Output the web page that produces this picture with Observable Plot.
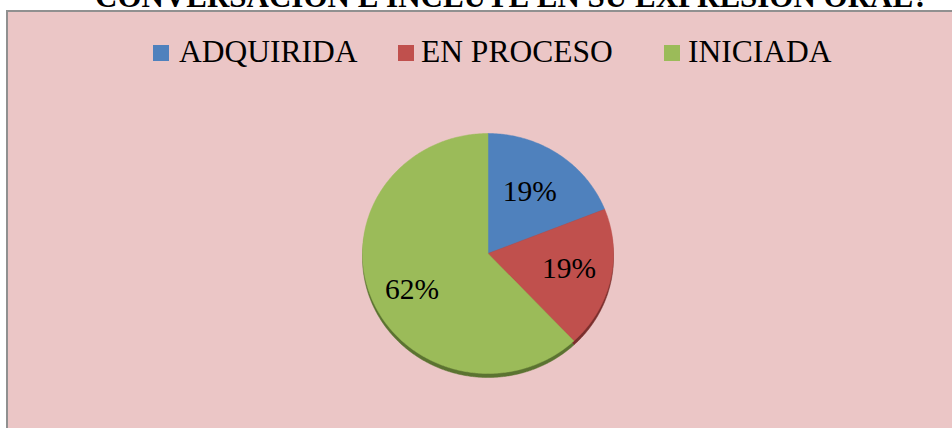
<!DOCTYPE html>
<html>
<head>
<meta charset="utf-8">
<script src="https://cdn.jsdelivr.net/npm/d3@7"></script>
<script src="https://cdn.jsdelivr.net/npm/@observablehq/plot@0.6"></script>
<style>
  html, body { margin: 0; padding: 0; background: #ffffff; overflow: hidden; }
  body { width: 952px; height: 428px; position: relative; font-family: "Liberation Serif", "Times New Roman", serif; }
  #title { position: absolute; left: 95px; top: -19px; font-size: 31px; line-height: 31px; font-weight: bold; white-space: nowrap; color: #000; }
  #box { position: absolute; left: 6px; top: 10px; width: 960px; height: 430px; background: #ebc6c6; border: 2px solid #909090; box-sizing: border-box; }
  #chart { position: absolute; left: 0; top: 0; }
  .lg { position: absolute; top: 36px; font-size: 31.5px; line-height: 31px; white-space: nowrap; color: #000; }
  .sw { position: absolute; top: 45px; width: 16px; height: 16px; }
</style>
</head>
<body>
<div id="title"></div>
<div id="box"></div>
<div id="legend"></div>
<div id="chart"></div>
<script>
const titleText = "CONVERSACIÓN E INCLUYE EN SU EXPRESIÓN ORAL?";
const categories = ["ADQUIRIDA", "EN PROCESO", "INICIADA"];
const values = [19, 19, 62];
const labels = ["19%", "19%", "62%"];
const colors = ["#4f81bd", "#c0504d", "#9bbb59"];
const sideColors = ["#2f4f78", "#7a2f2d", "#5b7331"];

document.getElementById("title").textContent = titleText;

// legend (HTML, positions only)
const swatchX = [153, 398, 664];
const textX = [179, 421, 688];
const legend = document.getElementById("legend");
categories.forEach((c, i) => {
  const s = document.createElement("div");
  s.className = "sw"; s.style.left = swatchX[i] + "px"; s.style.background = colors[i];
  legend.appendChild(s);
  const t = document.createElement("div");
  t.className = "lg"; t.style.left = textX[i] + "px"; t.textContent = c;
  legend.appendChild(t);
});

// pie geometry from data
const arcs = d3.pie().sort(null).value(d => d.value)(categories.map((c, i) => ({cat: c, value: values[i], label: labels[i]})));
const pts = [];
arcs.forEach(a => {
  const cat = a.data.cat;
  pts.push({cat, x: 0, y: 0});
  const n = Math.max(8, Math.ceil((a.endAngle - a.startAngle) / 0.01));
  for (let k = 0; k <= n; k++) {
    const t = a.startAngle + (a.endAngle - a.startAngle) * k / n;
    pts.push({cat, x: Math.sin(t), y: Math.cos(t)});
  }
  pts.push({cat, x: 0, y: 0});
});
const labelR = 0.62;
const lbl = arcs.map(a => {
  const m = (a.startAngle + a.endAngle) / 2;
  return {cat: a.data.cat, label: a.data.label, x: labelR * Math.sin(m), y: labelR * Math.cos(m)};
});
const nudges = [[-2, 0], [5, -1.5], [-3.5, 9]];

const plot = Plot.plot({
  width: 952,
  height: 428,
  margin: 0,
  style: {background: "transparent", overflow: "visible"},
  x: {domain: [-1, 1], range: [362, 613], axis: null},
  y: {domain: [-1, 1], range: [373, 133], axis: null},
  color: {domain: categories, range: colors},
  marks: [
    Plot.line(pts, {x: "x", y: "y", z: "cat", fill: (d) => sideColors[categories.indexOf(d.cat)], stroke: (d) => sideColors[categories.indexOf(d.cat)], strokeWidth: 0.5, dy: 4}),
    Plot.line(pts, {x: "x", y: "y", z: "cat", fill: "cat", stroke: "cat", strokeWidth: 0.5}),
    ...lbl.map((d, i) => Plot.text([d], {x: "x", y: "y", text: "label", fontSize: 29.5, fontFamily: "Liberation Serif", fill: "#000", textAnchor: "middle", lineAnchor: "middle", dx: nudges[i][0], dy: nudges[i][1]}))
  ]
});
document.getElementById("chart").appendChild(plot);
</script>
</body>
</html>
